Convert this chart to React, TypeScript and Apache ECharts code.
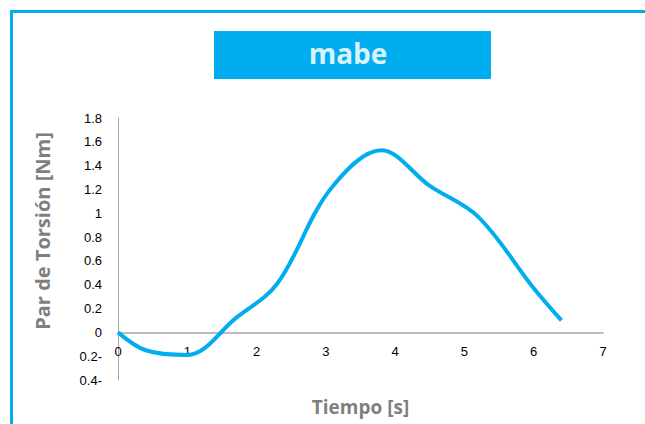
import React, { useEffect, useRef } from "react";
import * as echarts from "echarts";

const title = "mabe";
const xName = "Tiempo [s]";
const yName = "Par de Torsión [Nm]";
const timeValues = [0, 0.4, 1.0, 1.7, 2.3, 3.05, 3.8, 4.5, 5.2, 6.0, 6.4];
const torqueValues = [0, -0.15, -0.19, 0.12, 0.41, 1.19, 1.53, 1.23, 0.97, 0.37, 0.1];

const BLUE = "#00AEEF";

export default function App() {
  const ref = useRef<HTMLDivElement>(null);
  useEffect(() => {
    if (!ref.current) return;
    const chart = echarts.init(ref.current, null, { renderer: "svg" });
    const data = timeValues.map((t, i) => [t, torqueValues[i]]);
    chart.setOption({
      animation: false,
      backgroundColor: "#ffffff",
      grid: { left: 118, right: 42, top: 118, bottom: 44, containLabel: false, outerBoundsMode: "none" },
      graphic: [
        {
          type: "rect",
          shape: { x: 11.5, y: 11.5, width: 700, height: 500 },
          style: { fill: "none", stroke: BLUE, lineWidth: 3 },
        },
        {
          type: "rect",
          shape: { x: 214, y: 31, width: 277, height: 48 },
          style: { fill: BLUE },
        },
        {
          type: "text",
          x: 348,
          y: 53,
          style: {
            text: title,
            fill: "#d9f3fc",
            font: "bold 28px 'Open Sans', sans-serif",
            textAlign: "center",
            textVerticalAlign: "middle",
          },
        },
        {
          type: "text",
          x: 42,
          y: 231,
          rotation: Math.PI / 2,
          style: {
            text: yName,
            fill: "#7f7f7f",
            font: "bold 20px 'Open Sans', sans-serif",
            textAlign: "center",
            textVerticalAlign: "middle",
          },
        },
      ],
      xAxis: {
        type: "value",
        min: 0,
        max: 7,
        interval: 1,
        name: xName,
        nameLocation: "middle",
        nameGap: 17,
        nameTextStyle: { color: "#7f7f7f", fontSize: 19, fontWeight: "bold", fontFamily: "'Open Sans', sans-serif" },
        axisLine: { onZero: true, lineStyle: { color: "#a6a6a6", width: 1.5 } },
        axisTick: { show: false },
        splitLine: { show: false },
        axisLabel: { color: "#000", fontSize: 13, margin: -35, fontFamily: "'Liberation Sans', sans-serif" },
      },
      yAxis: {
        type: "value",
        min: -0.4,
        max: 1.8,
        interval: 0.2,
        axisLine: { show: true, lineStyle: { color: "#a6a6a6", width: 1 } },
        axisTick: { show: false },
        splitLine: { show: false },
        axisLabel: {
          color: "#000",
          fontSize: 13,
          margin: 16,
          fontFamily: "'Liberation Sans', sans-serif",
          formatter: (v: number) => {
            const r = Math.round(v * 10) / 10;
            if (r < 0) return `${Math.abs(r)}-`;
            return `${r}`;
          },
        },
      },
      series: [
        {
          type: "line",
          data,
          smooth: 0.35,
          showSymbol: false,
          lineStyle: { color: BLUE, width: 4 },
        },
      ],
    });
    return () => chart.dispose();
  }, []);
  return (
    <div
      ref={ref}
      style={{ position: "absolute", left: 0, top: 0, width: 645, height: 424 }}
    />
  );
}
